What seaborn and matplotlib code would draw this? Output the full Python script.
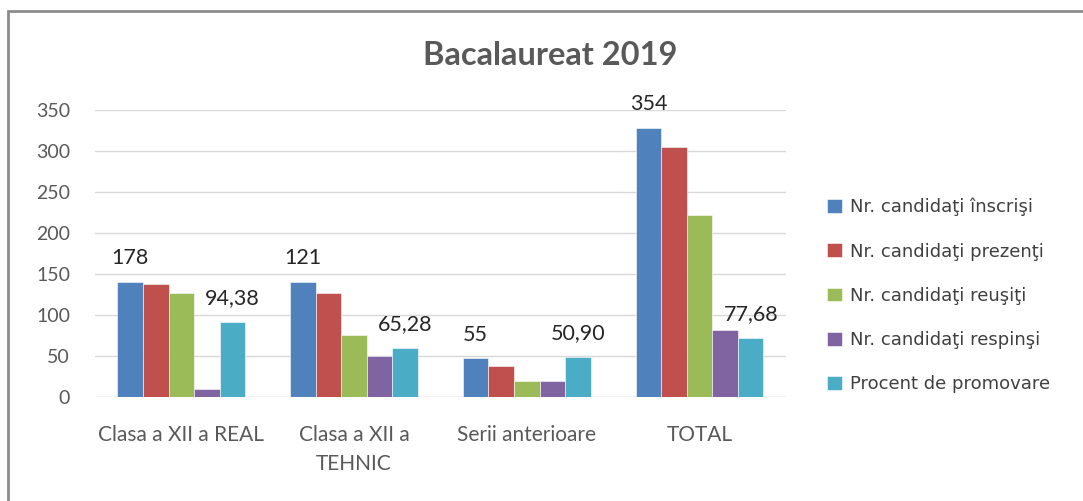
import pandas as pd
import numpy as np
import matplotlib.pyplot as plt
import seaborn as sns
import matplotlib.patches as patches

# Date
categorii = ['Clasa a XII a REAL', 'Clasa a XII a\nTEHNIC', 'Serii anterioare', 'TOTAL']
serii = ['Nr. candidaţi înscrişi', 'Nr. candidaţi prezenţi', 'Nr. candidaţi reuşiţi',
         'Nr. candidaţi respinşi', 'Procent de promovare']
inscrisi = [140, 140, 47, 328]
prezenti = [138, 127, 38, 305]
reusiti = [127, 75, 19, 222]
respinsi = [10, 50, 19, 82]
procent = [91, 60, 49, 72]
etichete_inscrisi = ['178', '121', '55', '354']
etichete_procent = ['94,38', '65,28', '50,90', '77,68']
culori = ['#4F81BD', '#C0504D', '#9BBB59', '#8064A2', '#4BACC6']
yticks = [0, 50, 100, 150, 200, 250, 300, 350]

valori = [inscrisi, prezenti, reusiti, respinsi, procent]
df = pd.DataFrame({
    'categorie': np.tile(categorii, len(serii)),
    'serie': np.repeat(serii, len(categorii)),
    'valoare': np.concatenate(valori),
})

sns.set_style('white')
plt.rcParams['font.family'] = ['Lato', 'DejaVu Sans']

fig = plt.figure(figsize=(10.83, 5.01), dpi=100)
fig.patch.set_facecolor('white')
ax = fig.add_axes([0.0877, 0.2076, 0.638, 0.5728])

sns.barplot(data=df, x='categorie', y='valoare', hue='serie', palette=culori,
            width=0.74, saturation=1, gap=0, ax=ax, errorbar=None,
            edgecolor='white', linewidth=0.4)

ax.set_ylim(0, 350)
ax.set_yticks(yticks)
ax.yaxis.grid(True, color='#D9D9D9', linewidth=1)
ax.set_axisbelow(True)
sns.despine(ax=ax, left=True, bottom=True)
ax.axhline(0, color='#D9D9D9', linewidth=1, zorder=0)
ax.set_xlabel('')
ax.set_ylabel('')
ax.tick_params(axis='both', length=0, colors='#595959')
ax.tick_params(axis='y', pad=18, labelsize=14)
ax.tick_params(axis='x', pad=20, labelsize=15)
for t in ax.get_xticklabels():
    t.set_linespacing(1.6)

# etichete de date
ax.bar_label(ax.containers[0], labels=etichete_inscrisi, padding=10, fontsize=15.5, color='#262626')
ax.bar_label(ax.containers[4], labels=etichete_procent, padding=10, fontsize=15.5, color='#262626')

# legenda
handles, labels = ax.get_legend_handles_labels()
ax.get_legend().remove()
fig.legend(handles, labels, loc='center left', bbox_to_anchor=(0.764, 0.41),
           frameon=False, handlelength=0.8, handleheight=0.8,
           handletextpad=0.45, labelspacing=1.45, borderpad=0, borderaxespad=0,
           prop={'family': 'DejaVu Sans', 'size': 13}, labelcolor='#404040')

fig.text(0.508, 0.89, 'Bacalaureat 2019', ha='center', va='center',
         fontsize=23.5, fontweight='bold', color='#595959')

# chenarul graficului
fig.patches.append(patches.Rectangle((8 / 1083, -0.1), 1.2, 1.1 - 11 / 501,
                                     transform=fig.transFigure, fill=False,
                                     edgecolor='#8C8C8C', linewidth=2))

plt.savefig('out.png', dpi=100, facecolor='white')
